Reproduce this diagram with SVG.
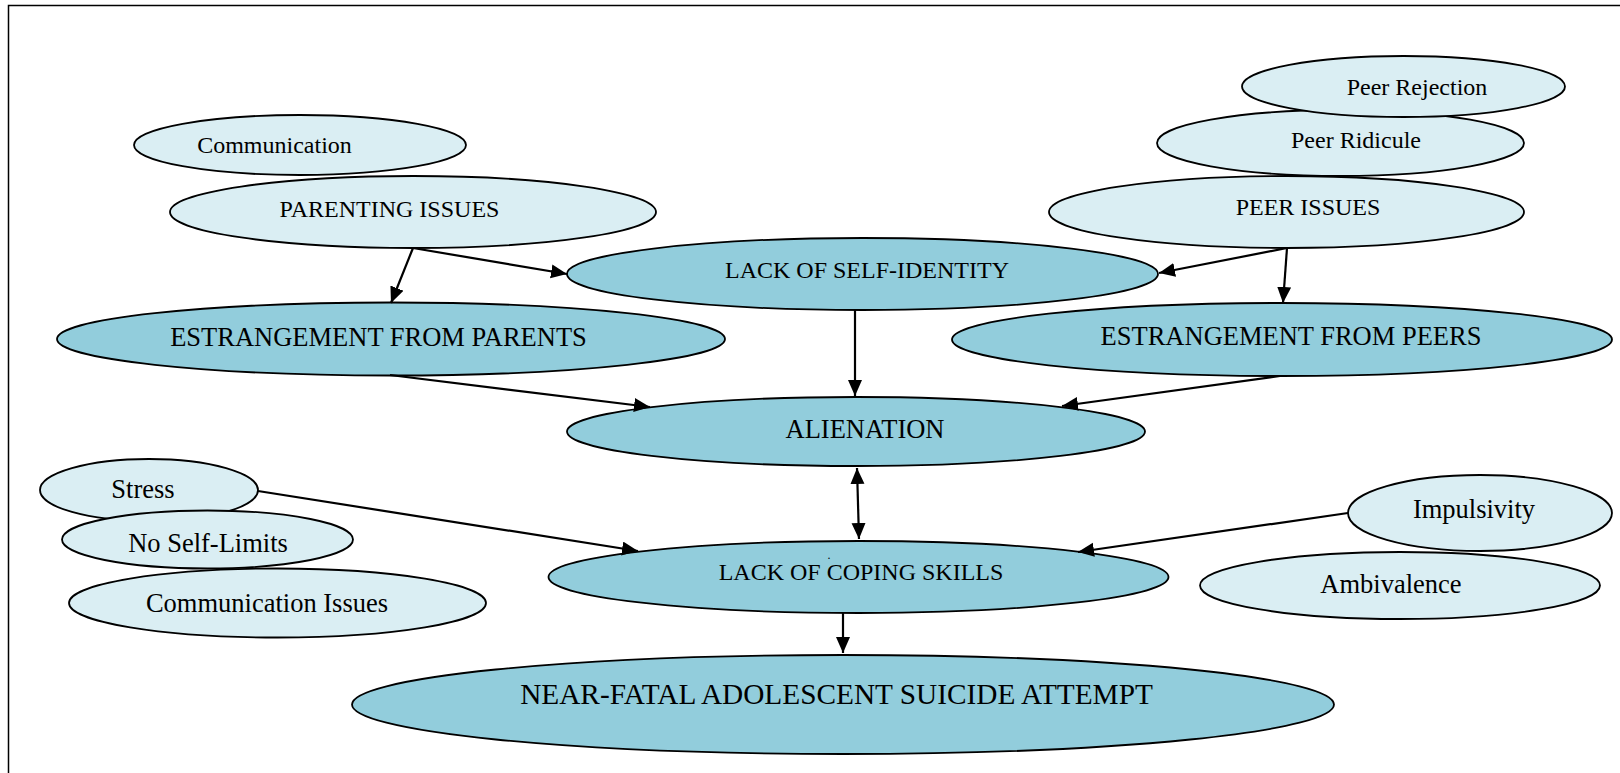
<svg xmlns="http://www.w3.org/2000/svg" width="1620" height="773" viewBox="0 0 1620 773">
<style>
.lt{fill:#DAEEF3;stroke:#000;stroke-width:1.8}
.dk{fill:#92CDDC;stroke:#000;stroke-width:1.8}
text{font-family:"Liberation Serif","Times New Roman",serif;fill:#000;text-anchor:middle}
.s24{font-size:24px}
.s26{font-size:26.5px}
.s29{font-size:29.3px}
.c line{stroke:#000;stroke-width:2.2;marker-end:url(#ah)}
</style>
<defs>
<marker id="ah" markerUnits="userSpaceOnUse" markerWidth="18" markerHeight="16" refX="16" refY="7" orient="auto-start-reverse">
<path d="M0,0 L16,7 L0,14 z" fill="#000"/>
</marker>
</defs>
<rect x="8.5" y="5.5" width="1640" height="800" fill="#fff" stroke="#000" stroke-width="1.5"/>
<g id="communication"><ellipse class="lt" cx="300" cy="145" rx="166" ry="30"/><text class="s24" x="274.5" y="153">Communication</text></g>
<g id="parenting-issues"><ellipse class="lt" cx="413" cy="212" rx="243" ry="36"/><text class="s24" x="389.5" y="217">PARENTING ISSUES</text></g>
<g id="peer-ridicule"><ellipse class="lt" cx="1340.5" cy="143" rx="183.5" ry="33"/><text class="s24" x="1356" y="148">Peer Ridicule</text></g>
<g id="peer-rejection"><ellipse class="lt" cx="1403.5" cy="86.5" rx="161.5" ry="30.5"/><text class="s24" x="1417" y="95">Peer Rejection</text></g>
<g id="peer-issues"><ellipse class="lt" cx="1286.5" cy="212" rx="237.5" ry="36"/><text class="s24" x="1308" y="215">PEER ISSUES</text></g>
<g id="lack-self-identity"><ellipse class="dk" cx="862.5" cy="274" rx="295.5" ry="36"/><text class="s24" x="867" y="278">LACK OF SELF-IDENTITY</text></g>
<g id="estrangement-parents"><ellipse class="dk" cx="391" cy="339" rx="334" ry="36.5"/><text class="s26" x="378.5" y="346">ESTRANGEMENT FROM PARENTS</text></g>
<g id="estrangement-peers"><ellipse class="dk" cx="1282" cy="339.5" rx="330" ry="36.5"/><text class="s26" x="1291" y="345">ESTRANGEMENT FROM PEERS</text></g>
<g id="alienation"><ellipse class="dk" cx="856" cy="431.5" rx="289" ry="34.5"/><text class="s26" x="865" y="438">ALIENATION</text></g>
<g id="stress"><ellipse class="lt" cx="149" cy="490" rx="109" ry="31"/><text class="s26" x="143" y="498">Stress</text></g>
<g id="no-self-limits"><ellipse class="lt" cx="207.5" cy="539.5" rx="145.5" ry="29"/><text class="s26" x="208" y="552">No Self-Limits</text></g>
<g id="communication-issues"><ellipse class="lt" cx="277.5" cy="603" rx="208.5" ry="34.5"/><text class="s26" x="267" y="612">Communication Issues</text></g>
<g id="lack-coping-skills"><ellipse class="dk" cx="858.5" cy="577" rx="310" ry="36"/><text class="s24" x="861" y="580">LACK OF COPING SKILLS</text><text x="829" y="559" style="font-size:12px">.</text></g>
<g id="impulsivity"><ellipse class="lt" cx="1480" cy="513" rx="132" ry="38"/><text class="s26" x="1474" y="518">Impulsivity</text></g>
<g id="ambivalence"><ellipse class="lt" cx="1400" cy="585.5" rx="200" ry="33.5"/><text class="s26" x="1391" y="593">Ambivalence</text></g>
<g id="near-fatal"><ellipse class="dk" cx="843" cy="704.5" rx="491" ry="49.5"/><text class="s29" x="836.5" y="704">NEAR-FATAL ADOLESCENT SUICIDE ATTEMPT</text></g>
<g id="connectors" class="c">
<line x1="413" y1="248" x2="391" y2="303"/>
<line x1="413" y1="248" x2="567" y2="274"/>
<line x1="1287" y1="248" x2="1159" y2="273"/>
<line x1="1287" y1="248" x2="1283" y2="303"/>
<line x1="855" y1="310" x2="855" y2="396"/>
<line x1="390" y1="375" x2="650" y2="407"/>
<line x1="1280" y1="376" x2="1062" y2="406"/>
<line x1="857" y1="468" x2="859" y2="539" style="marker-start:url(#ah)"/>
<line x1="258" y1="491" x2="638" y2="551"/>
<line x1="1348" y1="513" x2="1078" y2="552"/>
<line x1="843" y1="613" x2="843" y2="653"/>
</g>
</svg>
